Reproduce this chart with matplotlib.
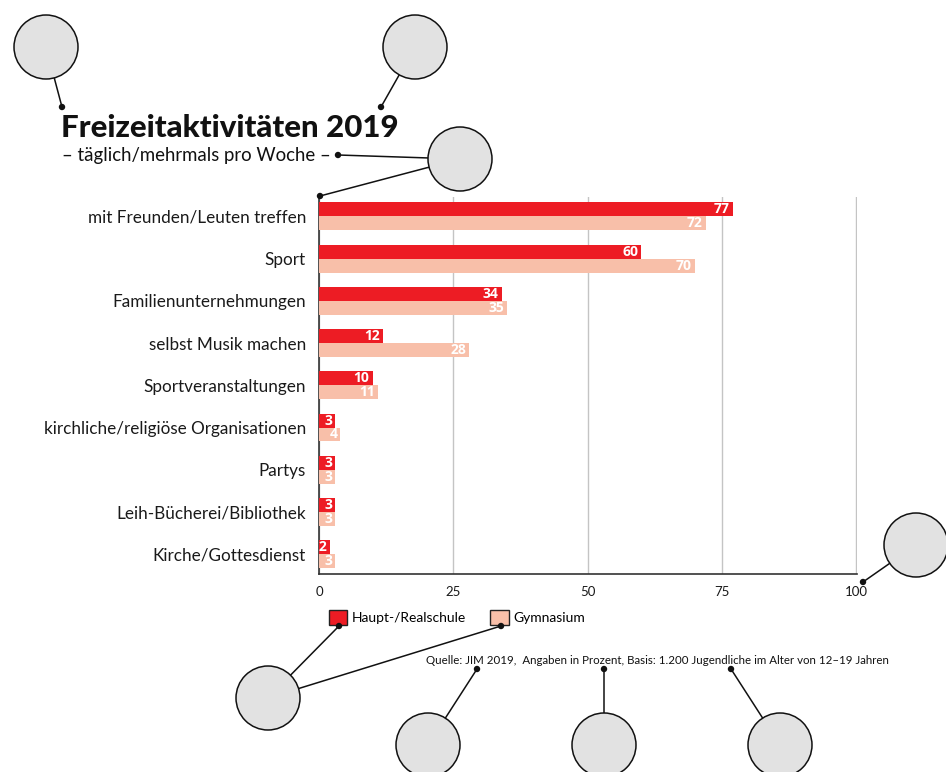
import matplotlib
matplotlib.use("Agg")
import matplotlib.pyplot as plt
from matplotlib.patches import Circle, Patch

plt.rcParams['font.family'] = ['Lato', 'DejaVu Sans']

categories = ["mit Freunden/Leuten treffen", "Sport", "Familienunternehmungen",
              "selbst Musik machen", "Sportveranstaltungen",
              "kirchliche/religiöse Organisationen", "Partys",
              "Leih-Bücherei/Bibliothek", "Kirche/Gottesdienst"]
haupt = [77, 60, 34, 12, 10, 3, 3, 3, 2]
gymn = [72, 70, 35, 28, 11, 4, 3, 3, 3]
series_names = ["Haupt-/Realschule", "Gymnasium"]
xticks = [0, 25, 50, 75, 100]
title = "Freizeitaktivitäten 2019"
subtitle = "– täglich/mehrmals pro Woche –"
source = "Quelle: JIM 2019,  Angaben in Prozent, Basis: 1.200 Jugendliche im Alter von 12–19 Jahren"

RED = "#ED1C24"
PINK = "#F8BFA9"
W, H = 946, 772

fig = plt.figure(figsize=(W / 100, H / 100), dpi=100)
fig.patch.set_facecolor("white")

L, R, T, B = 319, 857, 197, 574
ax = fig.add_axes([L / W, 1 - B / H, (R - L) / W, (B - T) / H])

h = 0.33
ys = list(range(len(categories)))
ax.barh([y - h / 2 for y in ys], haupt, height=h, color=RED, zorder=3)
ax.barh([y + h / 2 for y in ys], gymn, height=h, color=PINK, zorder=3)

vfont = dict(family=["Open Sans", "DejaVu Sans"], fontsize=10, fontweight="bold")
for y, v in zip(ys, haupt):
    ax.text(v - 0.6, y - h / 2, str(v), ha="right", va="center", color="white",
            zorder=4, **vfont)
for y, v in zip(ys, gymn):
    ax.text(v - 0.6, y + h / 2, str(v), ha="right", va="center", color="white",
            zorder=4, **vfont)

ax.set_xlim(0, 100.15)
ax.set_ylim(8.47, -0.46)
ax.set_yticks(ys)
ax.set_yticklabels(categories, fontsize=12.3, color="#1a1a1a")
ax.set_xticks(xticks)
ax.set_xticklabels([str(t) for t in xticks], fontsize=9.5, color="#1a1a1a")
ax.tick_params(axis="y", length=0, pad=9.4)
ax.tick_params(axis="x", length=0, pad=8.5)
ax.xaxis.grid(True, color="#c4c4c4", linewidth=1, zorder=0)
ax.set_axisbelow(True)
for s in ["top", "right"]:
    ax.spines[s].set_visible(False)
ax.spines["left"].set_color("#333333")
ax.spines["bottom"].set_color("#333333")
ax.spines["left"].set_linewidth(1.2)
ax.spines["bottom"].set_linewidth(1.2)

fig.text(61 / W, 1 - 137 / H, title, fontsize=22.5, fontweight="black",
         ha="left", va="baseline", color="#111111")
fig.text(62 / W, 1 - 156 / H, subtitle, fontsize=13.4, ha="left", va="center",
         color="#111111")

handles = [Patch(facecolor=RED, edgecolor="#222222", linewidth=1),
           Patch(facecolor=PINK, edgecolor="#222222", linewidth=1)]
fig.legend(handles, series_names, loc="upper left",
           bbox_to_anchor=(329 / W, 1 - 610 / H), bbox_transform=fig.transFigure,
           ncol=2, frameon=False, fontsize=10, handlelength=1.3,
           handleheight=1.25, handletextpad=0.35, columnspacing=1.75,
           borderpad=0, borderaxespad=0)

fig.text(657 / W, 1 - 661 / H, source, fontsize=8.3, ha="center", va="center",
         color="#111111")

ov = fig.add_axes([0, 0, 1, 1], zorder=10)
ov.set_xlim(0, W)
ov.set_ylim(H, 0)
ov.axis("off")
ov.patch.set_alpha(0)

circles = [(46, 47), (415, 47), (460, 159), (916, 545), (268, 698),
           (428, 745), (604, 745), (780, 745)]
links = [(0, 62, 107), (1, 381, 107), (2, 338, 155), (2, 320, 196),
         (3, 863, 582), (4, 339, 626), (4, 501, 626), (5, 477, 669),
         (6, 604, 669), (7, 731, 669)]
for ci, dx, dy in links:
    cx, cy = circles[ci]
    ov.plot([cx, dx], [cy, dy], color="#111111", lw=1.1, zorder=1, clip_on=False)
    ov.add_patch(Circle((dx, dy), 3.2, facecolor="#111111", edgecolor="none",
                        zorder=3, clip_on=False))
for cx, cy in circles:
    ov.add_patch(Circle((cx, cy), 32, facecolor="#e2e2e2", edgecolor="#111111",
                        lw=1.1, zorder=2, clip_on=False))

fig.savefig("out.png", dpi=100)
